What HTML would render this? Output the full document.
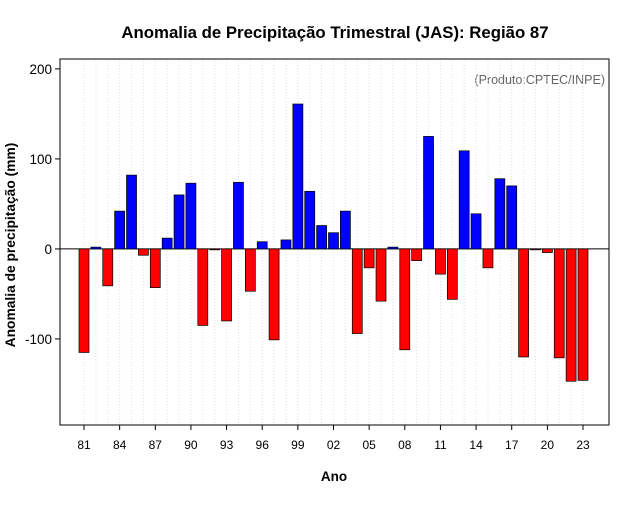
<!DOCTYPE html>
<html><head><meta charset="utf-8"><style>
body{margin:0;background:#fff;}
svg text{font-family:"Liberation Sans",sans-serif;}
</style></head><body>
<svg id="chart" width="640" height="500">
<text x="335" y="38" text-anchor="middle" font-size="16.8" font-weight="bold">Anomalia de Precipitação Trimestral (JAS): Região 87</text>
<text x="605" y="84" text-anchor="end" font-size="12.5" fill="#666">(Produto:CPTEC/INPE)</text>
<text x="334" y="481" text-anchor="middle" font-size="13.5" font-weight="bold">Ano</text>
<text transform="translate(15,245) rotate(-90)" text-anchor="middle" font-size="13.8" font-weight="bold">Anomalia de precipitação (mm)</text>
<g id="grid"></g><g id="bars"></g><g id="axes"></g>
</svg>
<script>
const years=[81,82,83,84,85,86,87,88,89,90,91,92,93,94,95,96,97,98,99,0,1,2,3,4,5,6,7,8,9,10,11,12,13,14,15,16,17,18,19,20,21,22,23];
const values=[-115,2,-41,42,82,-7,-43,12,60,73,-85,-1,-80,74,-47,8,-101,10,161,64,26,18,42,-94,-21,-58,2,-112,-13,125,-28,-56,109,39,-21,78,70,-120,-1,-4,-121,-147,-146];
const yTicks=[-100,0,100,200];
const xTickLabels=["81","84","87","90","93","96","99","02","05","08","11","14","17","20","23"];
const NS="http://www.w3.org/2000/svg";
const L=60,R=609,T=59,B=425,yMin=-195.6,yMax=211;
const n=values.length, step=(583-84)/42;
function x(i){return 84+i*step;}
function y(v){return B-(v-yMin)/(yMax-yMin)*(B-T);}
function mk(tag,a,p){const e=document.createElementNS(NS,tag);for(const k in a)e.setAttribute(k,a[k]);p.appendChild(e);return e;}
const grid=document.getElementById('grid'),bars=document.getElementById('bars'),axes=document.getElementById('axes');
for(let i=0;i<n;i++){
 const g=mk('line',{x1:x(i),x2:x(i),y1:T,y2:B,stroke:'#ddd','stroke-dasharray':'1,2'},grid);
 
 
}
mk('line',{x1:L,x2:R,y1:y(0),y2:y(0),stroke:'#000'},grid);
for(let i=0;i<n;i++){
 const v=values[i],y0=y(0),y1=y(v);
 const r=mk('rect',{x:x(i)-5,y:Math.min(y0,y1),width:10,height:Math.max(Math.abs(y1-y0),0.5),fill:v>=0?'#0000ff':'#ff0000',stroke:'#000','stroke-width':0.7},bars);
 
 
}
mk('rect',{x:L,y:T,width:R-L,height:B-T,fill:'none',stroke:'#000'},axes);
yTicks.forEach(t=>{
 mk('line',{x1:L-5,x2:L,y1:y(t),y2:y(t),stroke:'#000'},axes);
 const tx=mk('text',{x:L-8,y:y(t)+5,'text-anchor':'end','font-size':13.5},axes);
 tx.textContent=t;
 
 
});
xTickLabels.forEach((lab,k)=>{
 const i=k*3;
 mk('line',{x1:x(i),x2:x(i),y1:B,y2:B+5,stroke:'#000'},axes);
 const tx=mk('text',{x:x(i),y:B+24,'text-anchor':'middle','font-size':12},axes);
 tx.textContent=lab;
 
 
});
</script>
</body></html>
